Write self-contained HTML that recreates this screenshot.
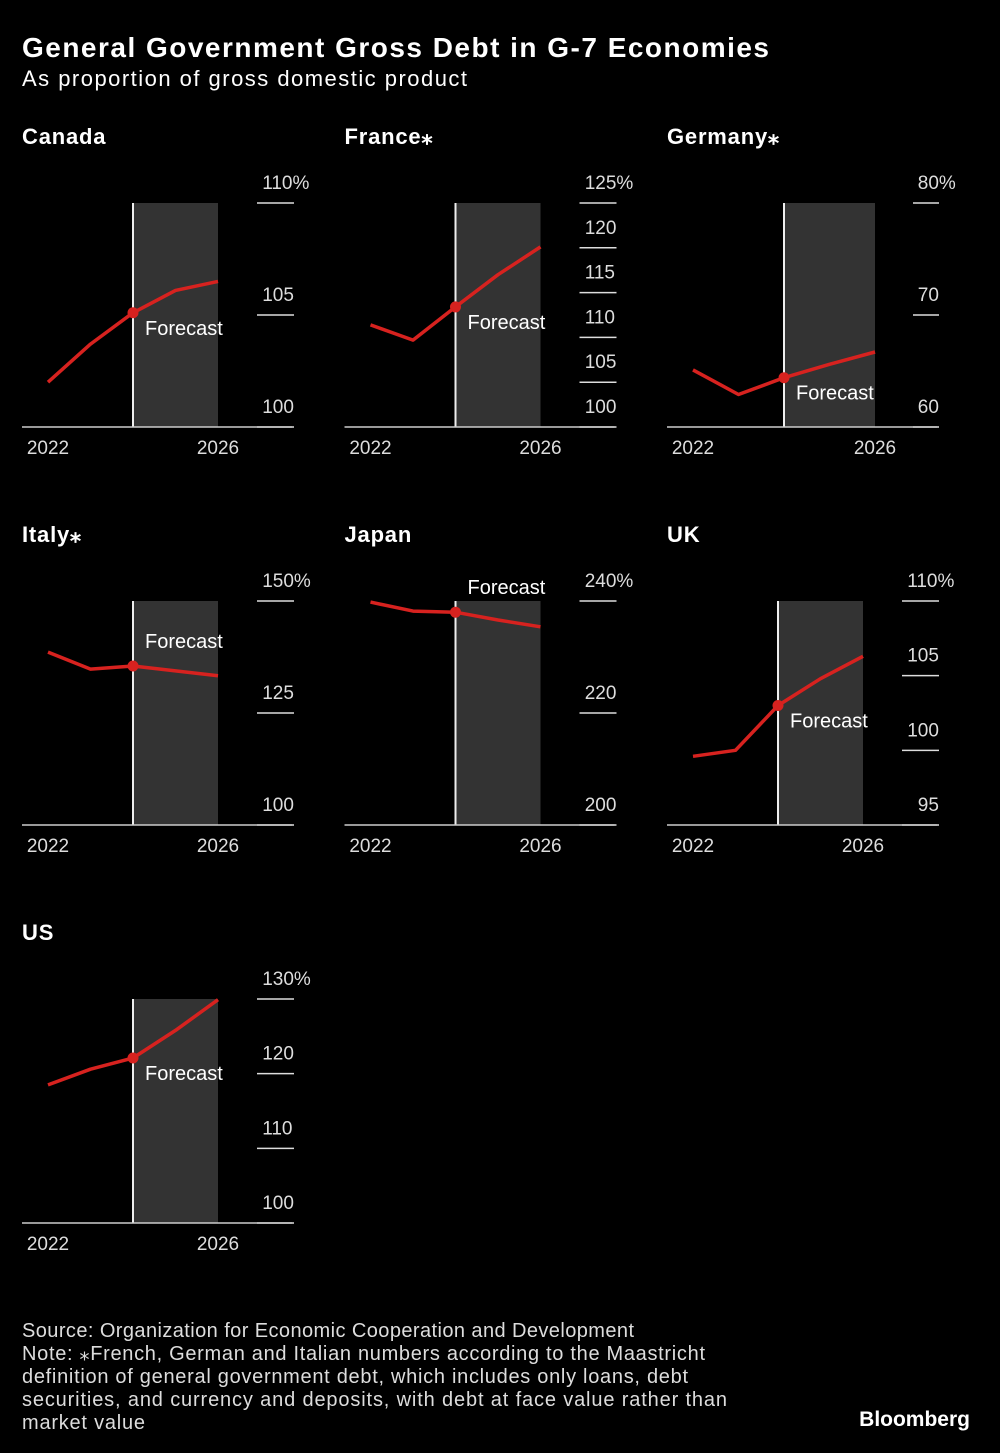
<!DOCTYPE html>
<html><head><meta charset="utf-8">
<style>
html,body{margin:0;padding:0;background:#000;}
svg{display:block;font-family:"Liberation Sans",sans-serif;}
</style></head>
<body>
<svg id="chart" width="1000" height="1453" viewBox="0 0 1000 1453">
<rect x="0" y="0" width="1000" height="1453" fill="#000"/>
<text x="22" y="57" fill="#fff" font-size="28" font-weight="bold" textLength="747" lengthAdjust="spacing">General Government Gross Debt in G-7 Economies</text>
<text x="22" y="86" fill="#fff" font-size="22" textLength="445" lengthAdjust="spacing">As proportion of gross domestic product</text>
<g id="panels"></g>
<g fill="#ddd" font-size="20">
<text x="22" y="1337" textLength="612" lengthAdjust="spacing">Source: Organization for Economic Cooperation and Development</text>
<text x="22" y="1360" textLength="683" lengthAdjust="spacing">Note: ⁎French, German and Italian numbers according to the Maastricht</text>
<text x="22" y="1383" textLength="666" lengthAdjust="spacing">definition of general government debt, which includes only loans, debt</text>
<text x="22" y="1406" textLength="705" lengthAdjust="spacing">securities, and currency and deposits, with debt at face value rather than</text>
<text x="22" y="1429" textLength="123" lengthAdjust="spacing">market value</text>
</g>
<text x="970" y="1426" fill="#fff" font-size="21" font-weight="bold" text-anchor="end">Bloomberg</text>
</svg>
<script>
const years = [2022, 2023, 2024, 2025, 2026];
const countries = ["Canada", "France⁎", "Germany⁎", "Italy⁎", "Japan", "UK", "US"];
const canadaValues = [102.0, 103.7, 105.1, 106.1, 106.5];
const franceValues = [111.4, 109.7, 113.4, 117.0, 120.1];
const germanyValues = [65.1, 62.9, 64.4, 65.6, 66.7];
const italyValues = [138.6, 134.8, 135.5, 134.4, 133.3];
const japanValues = [239.8, 238.2, 238.0, 236.6, 235.4];
const ukValues = [99.6, 100.0, 103.0, 104.8, 106.3];
const usValues = [118.5, 120.6, 122.1, 125.8, 129.9];
const canadaTicks = [100, 105, 110];
const franceTicks = [100, 105, 110, 115, 120, 125];
const germanyTicks = [60, 70, 80];
const italyTicks = [100, 125, 150];
const japanTicks = [200, 220, 240];
const ukTicks = [95, 100, 105, 110];
const usTicks = [100, 110, 120, 130];
const xTickYears = [2022, 2026];
const forecastStart = 2024;
const forecastLabelAbove = [false, false, false, true, true, false, false];

const series = [canadaValues, franceValues, germanyValues, italyValues, japanValues, ukValues, usValues];
const ticks = [canadaTicks, franceTicks, germanyTicks, italyTicks, japanTicks, ukTicks, usTicks];
const panelWidths = [270, 270, 270, 270, 270, 270, 270];
const wideAxis = [false, false, true, false, false, false, false];
const NS = "http://www.w3.org/2000/svg";
const root = document.getElementById("panels");
function mk(tag, attrs, parent){const e=document.createElementNS(NS,tag);for(const k in attrs)e.setAttribute(k,attrs[k]);parent.appendChild(e);return e;}

series.forEach((vals, i) => {
  const col = i % 3, row = Math.floor(i / 3);
  const ox = 22 + col * 322.5, oy = row * 398;
  const wide = wideAxis[i];
  const xStep = wide ? 45.5 : 42.5;
  const tickL = wide ? 246 : 235, tickR = wide ? 272 : 272;
  const g = mk("g", {}, root);
  
  
  const tk = ticks[i];
  const ymin = tk[0], ymax = tk[tk.length - 1];
  const top = 203 + oy, bottom = 427 + oy;
  const y = v => bottom - (v - ymin) / (ymax - ymin) * (bottom - top);
  const x = yr => ox + 26 + (yr - years[0]) * xStep;
  const t = mk("text", {x: ox, y: 144 + oy, fill: "#fff", "font-size": 22, "font-weight": "bold", "letter-spacing": 0.8}, g);
  t.textContent = countries[i];
  
  
  const sh = mk("rect", {x: x(forecastStart), y: top, width: x(years[years.length-1]) - x(forecastStart), height: bottom - top, fill: "#333"}, g);
  
  
  const vl = mk("line", {x1: x(forecastStart), x2: x(forecastStart), y1: top, y2: bottom, stroke: "#eee", "stroke-width": 2}, g);
  
  
  tk.forEach((v, j) => {
    const ty = y(v);
    const tl = mk("line", {x1: ox + tickL, x2: ox + tickR, y1: ty, y2: ty, stroke: "#ddd", "stroke-width": 1.5}, g);
    
    
    const lb = mk("text", {x: ox + tickR - String(v).length * 10.6, y: ty - 14, fill: "#ddd", "font-size": 19}, g);
    lb.textContent = v + (j === tk.length - 1 ? "%" : "");
    
    
  });
  const ax = mk("line", {x1: ox, x2: ox + panelWidths[i], y1: bottom, y2: bottom, stroke: "#ccc", "stroke-width": 1.5}, g);
  
  
  xTickYears.forEach(yr => {
    const xl = mk("text", {x: x(yr), y: bottom + 27, fill: "#ddd", "font-size": 19, "text-anchor": "middle"}, g);
    xl.textContent = yr;
    
    
  });
  const pts = vals.map((v, k) => x(years[k]).toFixed(1) + "," + y(v).toFixed(1)).join(" ");
  const pl = mk("polyline", {points: pts, fill: "none", stroke: "#d7221f", "stroke-width": 3.5, "stroke-linejoin": "round"}, g);
  
  
  const fi = years.indexOf(forecastStart);
  const dot = mk("circle", {cx: x(forecastStart), cy: y(vals[fi]), r: 5.5, fill: "#d7221f"}, g);
  
  
  const fl = mk("text", {x: x(forecastStart) + 12, y: y(vals[fi]) + (forecastLabelAbove[i] ? -18 : 22), fill: "#fff", "font-size": 20}, g);
  fl.textContent = "Forecast";
  
  
});
</script>
</body></html>
